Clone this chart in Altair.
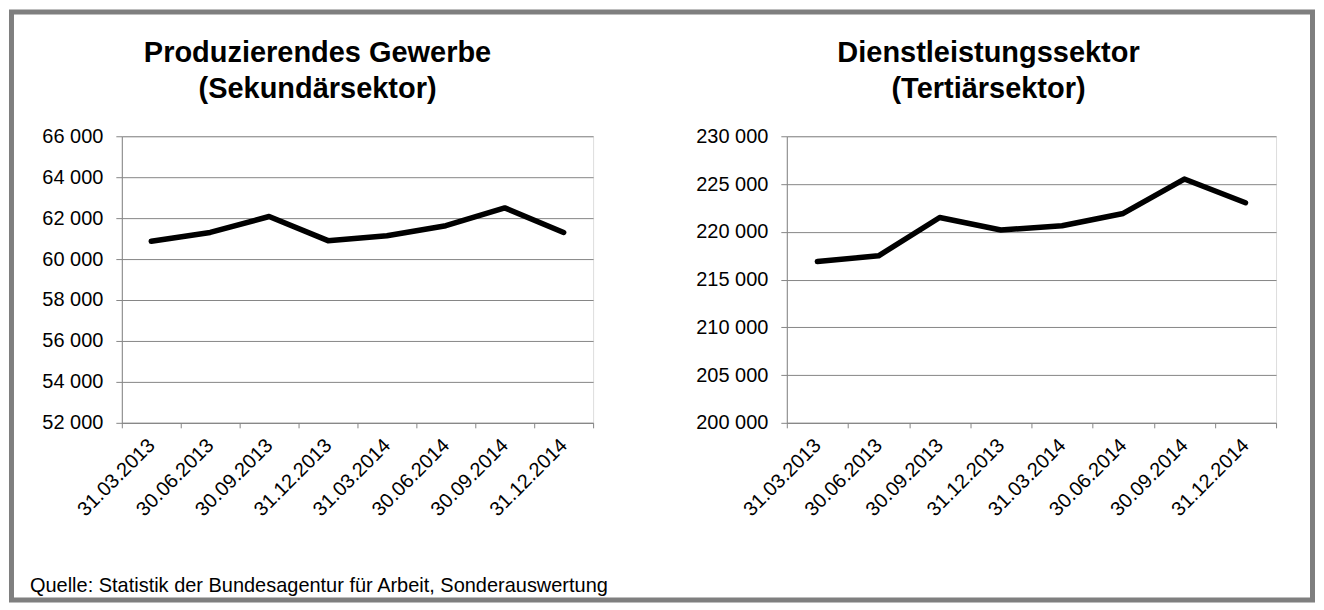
import altair as alt
import pandas as pd

# ---- data ----
dates = ["31.03.2013", "30.06.2013", "30.09.2013", "31.12.2013",
         "31.03.2014", "30.06.2014", "30.09.2014", "31.12.2014"]
secondary = [60870, 61300, 62080, 60900, 61140, 61630, 62500, 61300]
tertiary = [216900, 217480, 221500, 220180, 220630, 221920, 225520, 223040]
left_ticks = [52000, 54000, 56000, 58000, 60000, 62000, 64000, 66000]
right_ticks = [200000, 205000, 210000, 215000, 220000, 225000, 230000]
title_left = ["Produzierendes Gewerbe", "(Sekundärsektor)"]
title_right = ["Dienstleistungssektor", "(Tertiärsektor)"]
source = "Quelle: Statistik der Bundesagentur für Arbeit, Sonderauswertung"

FONT = "Liberation Sans"
GRAY = "#868686"
FRAME = "#7f7f7f"
LW, RW, H = 472, 490, 287


def x_enc(width):
    n = len(dates)
    band = width / n
    arr = "[" + ",".join("'%s'" % d for d in dates) + "]"
    return alt.X(
        "i:Q",
        scale=alt.Scale(domain=[-0.5, n - 0.5], nice=False, zero=False),
        axis=alt.Axis(
            values=[k - 0.5 for k in range(n + 1)],
            labelExpr="datum.value < %d ? %s[datum.value + 0.5] : ''" % (n - 1, arr),
            labelOffset=band / 2, labelAngle=315, labelAlign="right",
            labelBaseline="middle", labelPadding=14, tickSize=5,
            grid=False, title=None, domainColor=GRAY, tickColor=GRAY,
            labelFontSize=20, labelFont=FONT, labelColor="black",
            labelOverlap=False, labelFlush=False, labelBound=False,
        ),
    )


def y_enc(ticks):
    return alt.Y(
        "value:Q",
        scale=alt.Scale(domain=[ticks[0], ticks[-1]], nice=False, zero=False),
        axis=alt.Axis(
            values=ticks,
            labelExpr="replace(format(datum.value, ','), ',', ' ')",
            grid=True, gridColor=GRAY, gridWidth=1, tickSize=6, labelPadding=13,
            domainColor=GRAY, tickColor=GRAY, title=None,
            labelFontSize=20, labelFont=FONT, labelColor="black",
        ),
    )


def line(values, ticks, width):
    df = pd.DataFrame({"i": list(range(len(dates))), "date": dates, "value": values})
    return alt.Chart(df).mark_line(
        color="black", strokeWidth=5.5, strokeCap="round", strokeJoin="round"
    ).encode(x=x_enc(width), y=y_enc(ticks))


one = pd.DataFrame({"k": [0]})


def title_text(lines, cx):
    return alt.Chart(one).mark_text(
        font=FONT, fontSize=29, fontWeight="bold", color="black",
        align="center", baseline="alphabetic", lineHeight=36,
    ).encode(text=alt.value(lines), x=alt.value(cx), y=alt.value(-74))


frame = alt.Chart(one).mark_rect(
    fillOpacity=0, stroke=FRAME, strokeWidth=5
).encode(x=alt.value(-110.5), x2=alt.value(1192.5),
         y=alt.value(-124.5), y2=alt.value(464.5))

footer = alt.Chart(one).mark_text(
    font=FONT, fontSize=20, color="black", align="left", baseline="alphabetic"
).encode(text=alt.value(source), x=alt.value(-92), y=alt.value(456))

left = alt.layer(
    frame,
    line(secondary, left_ticks, LW),
    title_text(title_left, 196),
    footer,
).properties(width=LW, height=H)

right = alt.layer(
    line(tertiary, right_ticks, RW),
    title_text(title_right, 202),
).properties(width=RW, height=H)

chart = alt.hconcat(left, right, spacing=194, bounds="flush").properties(
    padding=0
).configure_view(strokeWidth=0).configure(font=FONT)

chart.save("out.html", embed_options={"renderer": "svg", "actions": False})
